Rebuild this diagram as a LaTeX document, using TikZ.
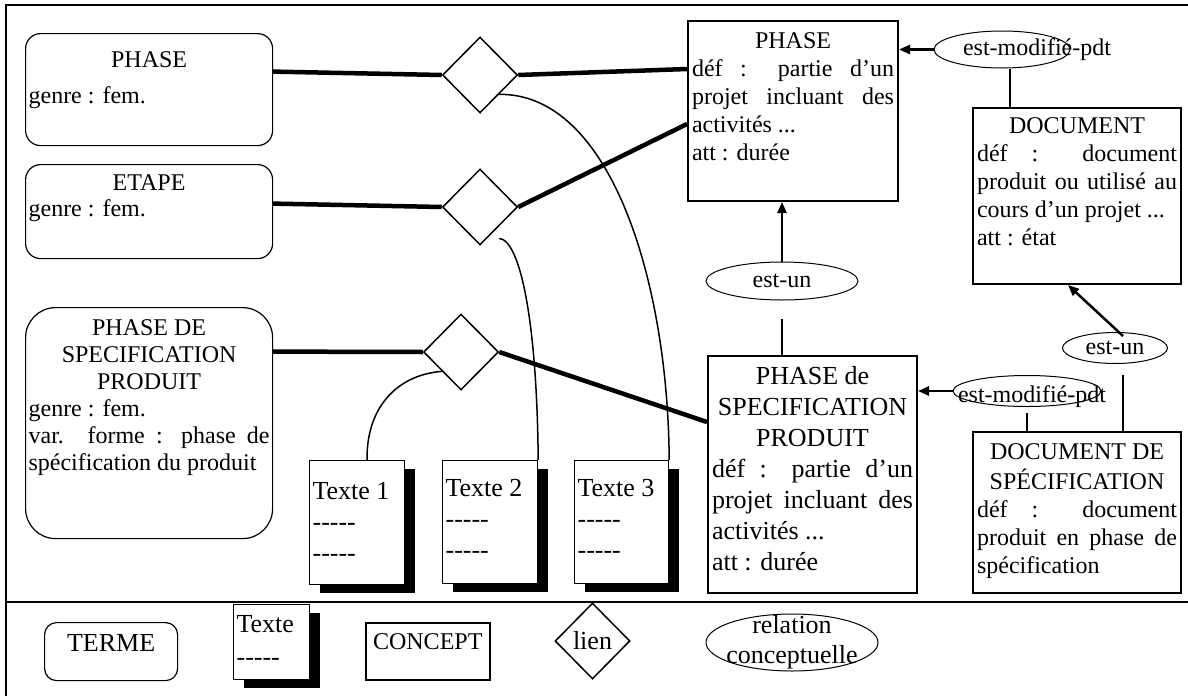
\documentclass[tikz,border=0pt]{standalone}
\usepackage{fontspec}
\setmainfont{Liberation Serif}
\usetikzlibrary{shapes.geometric,shadows,arrows.meta,calc}
\newcommand\Lc[1]{\makebox[\linewidth][c]{\strut#1}\par}
\newcommand\Lj[1]{\makebox[\linewidth][s]{\strut#1}\par}
\newcommand\Ll[1]{\makebox[\linewidth][l]{\strut#1}\par}
\newcommand\Bx[4]{\parbox[c][#2][t]{#1}{\setlength\parindent{0pt}\setlength\parskip{0pt}\vspace*{#3}#4}}
\newcommand\tirets{-{}-{}-{}-{}-}
\begin{document}
\begin{tikzpicture}[x=1pt,y=-1pt,
  every node/.style={font=\fontsize{24}{28}\selectfont},
  terme/.style={draw, line width=1.2pt, rounded corners=15pt, anchor=north west, inner xsep=3pt, inner ysep=0pt},
  concept/.style={draw, line width=2pt, anchor=north west, inner xsep=4pt, inner ysep=0pt},
  lien/.style={diamond, draw, line width=1.5pt, inner sep=0pt, minimum width=75pt, minimum height=76pt},
  texte/.style={draw, line width=1.2pt, fill=white, anchor=north west, inner xsep=3pt, inner ysep=0pt,
    general shadow={fill=black, shadow xshift=10pt, shadow yshift=-8pt}},
  rel/.style={ellipse, draw, line width=1pt, inner sep=0pt},
  fort/.style={line width=4.5pt},
  fin/.style={line width=1.5pt},
  relline/.style={line width=2.5pt},
  fleche/.style={relline, -{Triangle[length=11pt,width=9pt]}},
  cadre/.style={line width=2.2pt}
]
\useasboundingbox (0,0) rectangle (1188,696);
% frame
\coordinate (fbl) at (6,696);
\coordinate (ftl) at (6,5);
\coordinate (ftr) at (1188,5);
\coordinate (fsl) at (6,602);
\coordinate (fsr) at (1188,602);
\draw[cadre] (fbl) -- (ftl) -- (ftr);
\draw[cadre] (fsl) -- (fsr);

% termes
\node[terme] (t1) at (25,33) {\Bx{241pt}{112pt}{14.4pt}{\Lc{PHASE}\vspace{8pt}\Ll{genre : fem.}}};
\node[terme] (t2) at (25,164) {\Bx{241pt}{94pt}{6.4pt}{\Lc{ETAPE}\vspace{-2pt}\Ll{genre : fem.}}};
\node[terme, rounded corners=30pt] (t3) at (25,307) {\Bx{241pt}{231pt}{9.1pt}{\fontsize{24}{27}\selectfont\Lc{PHASE DE}\Lc{SPECIFICATION}\Lc{PRODUIT}\Ll{genre : fem.}\Lj{var. forme : phase de}\Ll{spécification du produit}}};

% concepts
\node[concept] (pc) at (687,20) {\Bx{202pt}{180pt}{7.4pt}{\Lc{PHASE}\Lj{déf : partie d’un}\Lj{projet incluant des}\Ll{activités ...}\Ll{att : durée}}};
\node[concept] (ps) at (707,355) {\Bx{201pt}{237pt}{6.6pt}{\fontsize{26}{31}\selectfont\Lc{PHASE de}\Lc{SPECIFICATION}\Lc{PRODUIT}\Lj{déf : partie d’un}\Lj{projet incluant des}\Ll{activités ...}\Ll{att : durée}}};
\node[concept] (doc) at (972,107) {\Bx{200pt}{176pt}{6.1pt}{\Lc{DOCUMENT}\Lj{déf : document}\Lj{produit ou utilisé au}\Ll{cours d’un projet ...}\Ll{att : état}}};
\node[concept] (dds) at (972,431) {\Bx{200pt}{161pt}{7.7pt}{\Lc{DOCUMENT DE}\Lc{SPÉCIFICATION}\Lj{déf : document}\Lj{produit en phase de}\Ll{spécification}}};

% liens
\node[lien] (d1) at (480,75) {};
\node[lien] (d2) at (480,207) {};
\node[lien] (d3) at (461,352) {};

% textes
\node[texte] (x1) at (309,460) {\Bx{89pt}{124pt}{17.3pt}{\fontsize{26}{31}\selectfont\Ll{Texte 1}\Ll{\tirets}\Ll{\tirets}}};
\node[texte] (x2) at (442,460) {\Bx{89pt}{123pt}{14.3pt}{\fontsize{26}{31}\selectfont\Ll{Texte 2}\Ll{\tirets}\Ll{\tirets}}};
\node[texte] (x3) at (574,460) {\Bx{88pt}{123pt}{14.3pt}{\fontsize{26}{31}\selectfont\Ll{Texte 3}\Ll{\tirets}\Ll{\tirets}}};

% relations
\node[rel, minimum width=136pt, minimum height=37pt, label={[xshift=35pt]center:est-modifié-pdt}] (e1) at (1002,49.5) {};
\node[rel, minimum width=152pt, minimum height=38pt] (e2) at (782,281) {est-un};
\node[rel, minimum width=105pt, minimum height=31pt] (e3) at (1115,348) {est-un};
\node[rel, minimum width=148pt, minimum height=31pt, label={[xshift=5pt,yshift=-6pt]center:est-modifié-pdt}] (e4) at (1027,391) {};

% thick links
\draw[fort] ([yshift=18pt]t1.east) -- (d1.west);
\draw[fort] (d1.east) -- ([yshift=42pt]pc.west);
\draw[fort] ([yshift=8pt]t2.east) -- (d2.west);
\draw[fort] (d2.east) -- ([yshift=-13pt]pc.west);
\draw[fort] ([yshift=71.5pt]t3.east) -- (d3.west);
\draw[fort] (d3.east) -- ([yshift=52.5pt]ps.west);

% thin curves to texts
\draw[fin] (d1.south east) .. controls (610,93) and (668,280) .. (x3.north east);
\draw[fin] ([yshift=-12pt]d2.south east) .. controls (520,240) and (537,320) .. (x2.north east);
\draw[fin] (d3.south west) .. controls (395,375) and (366,410) .. ([xshift=10pt]x1.north);

% relation connectors
\draw[fleche] (e1.west) -- (e1.west -| pc.east);
\draw[relline] ([xshift=8pt]e1.south) -- ([xshift=8pt]e1.south |- doc.north);
\draw[fleche] (e2.north) -- (e2.north |- pc.south);
\draw[relline] ([yshift=-18pt]e2.south) -- (e2.south |- ps.north);
\draw[fleche] (e4.west) -- (e4.west -| ps.east);
\draw[relline] ([yshift=-6pt]e4.south) -- (e4.south |- dds.north);
\draw[fleche] ([xshift=8pt,yshift=-4pt]e3.north) -- ([xshift=-9pt]doc.south);
\draw[relline] ([xshift=8pt,yshift=-11pt]e3.south) -- ([xshift=8pt]e3.south |- dds.north);

% legend
\node[terme, rounded corners=12pt] (lt) at (44,622) {\Bx{127pt}{58pt}{8.8pt}{\fontsize{26}{29}\selectfont\Lc{TERME}}};
\node[texte] (lx) at (233,604) {\Bx{70pt}{75pt}{7.7pt}{\fontsize{26}{29}\selectfont\Ll{Texte}\vspace{4pt}\Ll{\tirets}}};
\node[concept, line width=1.5pt] (lc) at (365,622) {\Bx{116pt}{57pt}{7.4pt}{\Lc{CONCEPT}}};
\node[lien, font=\fontsize{26}{29}\selectfont] (ll) at (592.5,641) {lien};
\node[rel, minimum width=172pt, minimum height=57pt, label={[align=center, font=\fontsize{26}{30}\selectfont]center:relation\\conceptuelle}] (lr) at (792,642.5) {};
\end{tikzpicture}
\end{document}
